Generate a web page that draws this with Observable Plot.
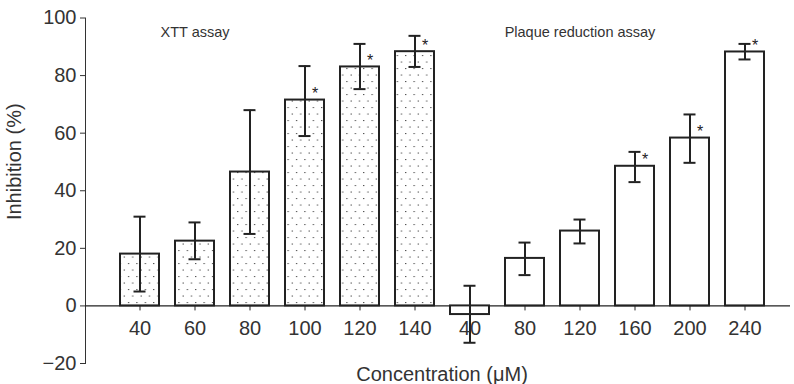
<!DOCTYPE html>
<html>
<head>
<meta charset="utf-8">
<script src="https://cdn.jsdelivr.net/npm/d3@7"></script>
<script src="https://cdn.jsdelivr.net/npm/@observablehq/plot@0.6"></script>
<style>
  html, body { margin: 0; padding: 0; background: #fff; }
  #chart { width: 794px; height: 384px; }
  svg { font-family: "Liberation Sans", Arial, Helvetica, sans-serif; }
</style>
</head>
<body>
<div id="chart"></div>
<script>
// ---- data ----
const xttConc = [40, 60, 80, 100, 120, 140];
const xttMean = [18, 22.5, 46.5, 71.5, 83, 88.3];
const xttLow = [5, 16.2, 25, 59, 75.3, 83];
const xttHigh = [31, 29, 68, 83.3, 91, 93.8];
const xttSig = [false, false, false, true, true, true];

const plaqueConc = [40, 80, 120, 160, 200, 240];
const plaqueMean = [-3, 16.5, 26, 48.5, 58.3, 88.2];
const plaqueLow = [-12.8, 10.7, 21.7, 43, 49.7, 85.6];
const plaqueHigh = [7, 22, 30, 53.5, 66.5, 91];
const plaqueSig = [false, false, false, true, true, true];

const yTicks = [-20, 0, 20, 40, 60, 80, 100];
const groupLabels = ["XTT assay", "Plaque reduction assay"];
const xTitle = "Concentration (\u03bcM)";
const yTitle = "Inhibition (%)";

// ---- table ----
const rows = [];
xttConc.forEach((c, i) => rows.push({key: "k" + rows.length, label: String(c), mean: xttMean[i], low: xttLow[i], high: xttHigh[i], sig: xttSig[i], assay: "XTT"}));
plaqueConc.forEach((c, i) => rows.push({key: "k" + rows.length, label: String(c), mean: plaqueMean[i], low: plaqueLow[i], high: plaqueHigh[i], sig: plaqueSig[i], assay: "Plaque"}));
const keys = rows.map(d => d.key);
const groups = [
  {key: keys[1], text: groupLabels[0], y: 95},
  {key: keys[8], text: groupLabels[1], y: 95}
];

const ink = "#222";
const plot = Plot.plot({
  width: 794,
  height: 384,
  marginLeft: 85,
  marginRight: 4,
  marginTop: 17.5,
  marginBottom: 21,
  style: {fontFamily: "Liberation Sans, Arial, sans-serif", fontSize: "20px", color: "#333", background: "#fff"},
  x: {type: "band", domain: keys, range: [112.5, 772.5], paddingInner: 0.29, paddingOuter: 0.145, axis: null},
  y: {domain: [-20, 100], ticks: yTicks, tickSize: 5, label: null, line: true, tickFormat: d => d < 0 ? "\u2212" + Math.abs(d) : d},
  marks: [
    Plot.ruleY([0], {stroke: ink, strokeWidth: 1.2}),
    Plot.barY(rows.filter(d => d.assay === "XTT"), {x: "key", y: "mean", fill: "url(#dots)", stroke: ink, strokeWidth: 2}),
    Plot.barY(rows.filter(d => d.assay === "Plaque"), {x: "key", y: "mean", fill: "white", stroke: ink, strokeWidth: 2}),
    Plot.ruleX(rows, {x: "key", y1: "low", y2: "high", stroke: ink, strokeWidth: 2}),
    Plot.tickY(rows, {x: "key", y: "low", stroke: ink, strokeWidth: 2, insetLeft: 13.5, insetRight: 13.5}),
    Plot.tickY(rows, {x: "key", y: "high", stroke: ink, strokeWidth: 2, insetLeft: 13.5, insetRight: 13.5}),
    Plot.text(rows.filter(d => d.sig), {x: "key", y: "mean", text: () => "*", dx: 10, dy: -6, fontSize: 16, fill: ink}),
    Plot.ruleX(rows, {x: "key", y1: 0, y2: 0, insetBottom: -5, stroke: ink, strokeWidth: 1}),
    Plot.text(rows, {x: "key", y: 0, text: "label", dy: 23, fontSize: 20, fill: "#333"}),
    Plot.text(groups, {x: "key", y: "y", text: "text", fontSize: 14.5, fill: "#333"}),
    Plot.text([xTitle], {frameAnchor: "bottom", lineAnchor: "bottom", text: d => d, dx: 4, dy: 17, fontSize: 20, fill: "#333"}),
    Plot.text([yTitle], {frameAnchor: "left", textAnchor: "middle", lineAnchor: "middle", text: d => d, rotate: -90, dx: -71, dy: -29, fontSize: 20, fill: "#333"})
  ]
});

// dotted pattern for the XTT bars
const ns = "http://www.w3.org/2000/svg";
const defs = document.createElementNS(ns, "defs");
const pat = document.createElementNS(ns, "pattern");
pat.setAttribute("id", "dots");
pat.setAttribute("patternUnits", "userSpaceOnUse");
pat.setAttribute("width", "8.4");
pat.setAttribute("height", "13");
const bg = document.createElementNS(ns, "rect");
bg.setAttribute("width", "8.4"); bg.setAttribute("height", "13"); bg.setAttribute("fill", "#fff");
pat.appendChild(bg);
[[2, 3], [6.2, 9.5]].forEach(([cx, cy]) => {
  const c = document.createElementNS(ns, "rect");
  c.setAttribute("x", cx); c.setAttribute("y", cy);
  c.setAttribute("width", "1.1"); c.setAttribute("height", "1.1");
  c.setAttribute("fill", "#333");
  pat.appendChild(c);
});
defs.appendChild(pat);
plot.insertBefore(defs, plot.firstChild);

// y axis styling: heavier axis line and ticks
plot.querySelectorAll("[aria-label='y-axis'] path, [aria-label='y-axis line'] line, [aria-label='y-axis line'] path").forEach(p => {
  p.setAttribute("stroke", ink);
});
document.getElementById("chart").appendChild(plot);
</script>
</body>
</html>
